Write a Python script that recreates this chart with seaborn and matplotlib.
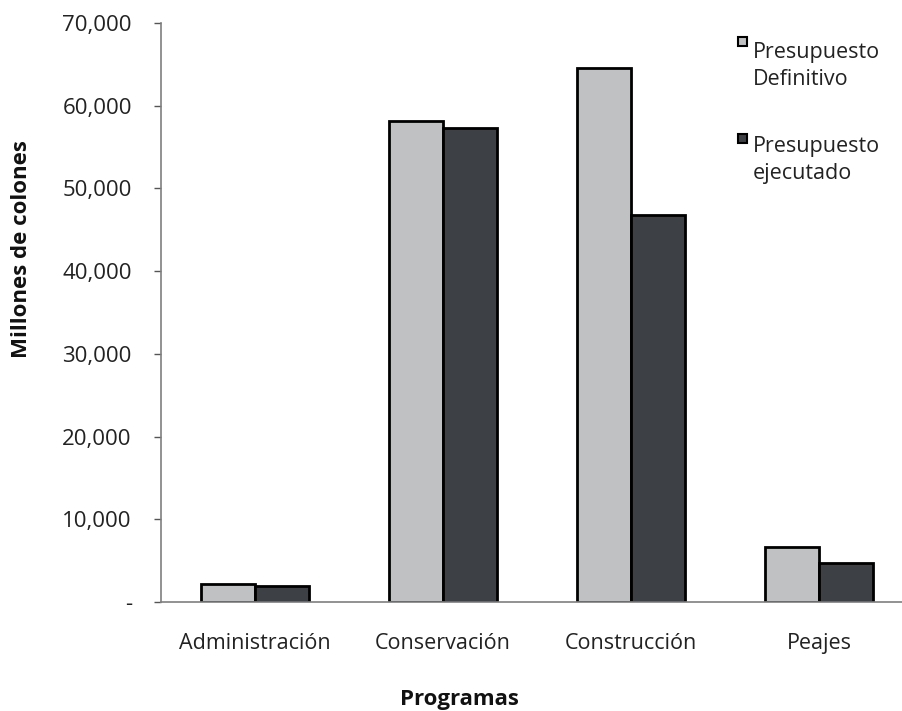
import matplotlib
matplotlib.use("Agg")
import matplotlib.pyplot as plt
from matplotlib.patches import Rectangle
from matplotlib.ticker import FixedLocator, FuncFormatter
import pandas as pd
import seaborn as sns

programas = ["Administración", "Conservación", "Construcción", "Peajes"]
definitivo = [2140, 58170, 64570, 6600]
ejecutado = [1970, 57360, 46790, 4740]
series = ["Presupuesto\nDefinitivo", "Presupuesto\nejecutado"]
colores = ["#C0C1C3", "#3D4044"]

df = pd.DataFrame({
    "Programa": programas * 2,
    "Monto": definitivo + ejecutado,
    "Serie": [series[0]] * len(programas) + [series[1]] * len(programas),
})

sns.set_theme(style="white")
plt.rcParams["font.family"] = ["Open Sans", "DejaVu Sans"]

W, H = 902, 711
fig = plt.figure(figsize=(W / 100, H / 100), dpi=100)
ax = fig.add_axes([161 / W, 109 / H, 752 / W, 579 / H])

sns.barplot(data=df, x="Programa", y="Monto", hue="Serie", palette=colores,
            saturation=1, width=0.575, edgecolor="black", linewidth=2,
            legend=False, ax=ax)

ax.set_xlim(-0.5, len(programas) - 0.5)
ax.set_ylim(0, 70000)
ax.yaxis.set_major_locator(FixedLocator(range(0, 70001, 10000)))
ax.yaxis.set_major_formatter(FuncFormatter(lambda v, p: "-" if v == 0 else f"{int(v):,}"))

# category boundaries carry the tick marks, centres carry the labels
ax.set_xticks(range(len(programas)))
ax.set_xticklabels(programas)
ax.set_xticks([i - 0.5 for i in range(len(programas) + 1)], minor=True)
ax.tick_params(axis="x", which="major", length=0, pad=22, labelsize=15.5, colors="#222222")
ax.tick_params(axis="x", which="minor", length=5, width=1, color="#555555", direction="out")
ax.tick_params(axis="y", which="major", length=5, width=1, color="#555555",
               direction="out", pad=16, labelsize=16, labelcolor="#222222", left=True)

for side in ["top", "right"]:
    ax.spines[side].set_visible(False)
for side in ["left", "bottom"]:
    ax.spines[side].set_color("#7F7F7F")
    ax.spines[side].set_linewidth(1.2)

ax.set_xlabel("")
ax.set_ylabel("")
fig.text(459 / W, 1 - 699 / H, "Programas", ha="center", va="center",
         fontsize=16, fontweight="bold", color="#111111")
fig.text(22 / W, 1 - 249 / H, "Millones de colones", ha="center", va="center",
         rotation=90, fontsize=16, fontweight="bold", color="#111111")

# legend: small squares beside two-line labels (text anchored on its last baseline)
for i, (lab, col) in enumerate(zip(series, colores)):
    sq_top = 37 + i * 97
    base = 85 + i * 94
    fig.patches.append(Rectangle((738 / W, 1 - (sq_top + 9) / H), 9 / W, 9 / H,
                                 facecolor=col, edgecolor="black", linewidth=1.5,
                                 transform=fig.transFigure, figure=fig))
    fig.text(753 / W, 1 - base / H, lab, ha="left", va="baseline",
             fontsize=15.5, color="#222222", linespacing=1.36)

fig.savefig("out.png", dpi=100)
